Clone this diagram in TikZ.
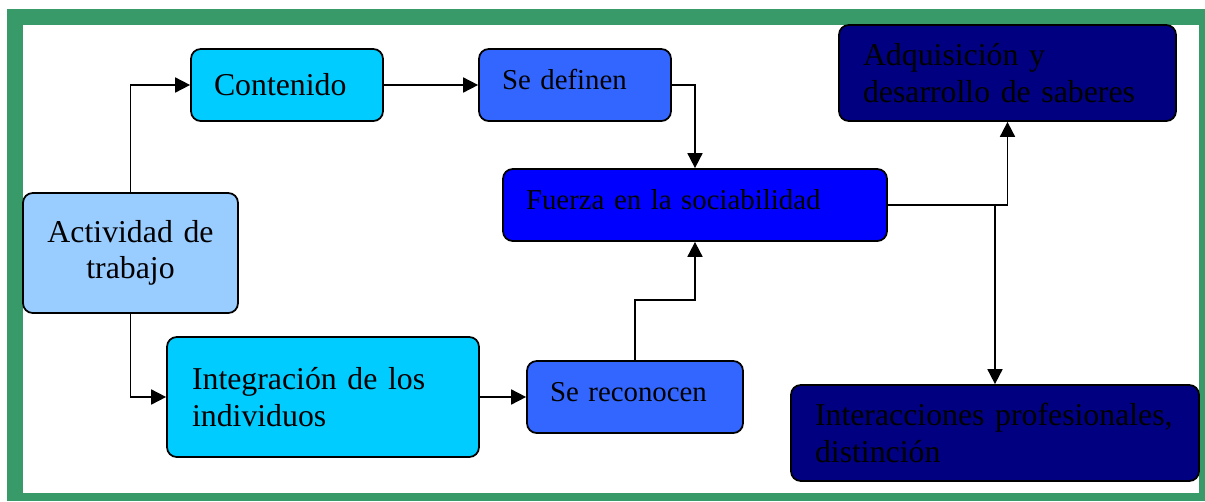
\documentclass[tikz,border=0pt]{standalone}
\usepackage{fontspec}
\setmainfont{Liberation Serif}
\usetikzlibrary{arrows.meta}
\usetikzlibrary{positioning}

\definecolor{frame-green}{HTML}{389A69}
\definecolor{pale-blue}{HTML}{99CCFF}
\definecolor{sky-blue}{HTML}{00CCFF}
\definecolor{mid-blue}{HTML}{3366FF}
\definecolor{pure-blue}{HTML}{0000FF}
\definecolor{navy-blue}{HTML}{000080}

\newcommand{\bigtext}{\fontsize{18.1}{20.6}\selectfont}
\newcommand{\smalltext}{\fontsize{16.4}{19}\selectfont}

\tikzset {
  flow path/.style = {
    draw = black,
    line width = 1pt
  },
  % path style with a filled triangle at its end
  arr/.style = {
    flow path,
    -{Triangle[length=8.5pt,width=8.5pt]}
  },
  % path style with no arrows
  narr/.style = {
    flow path
  }
}
\tikzset {
  flow node/.style = {
    draw = black,
    line width = 1pt,
    rounded corners = 5.5pt,
    rectangle,
    inner xsep = 0.46cm,
    inner ysep = 0pt,
    align = left
  },
  % large text box
  bigbox/.style = {
    flow node,
    font = \bigtext
  },
  % small text box, text sits a bit high
  smallbox/.style = {
    flow node,
    font = \smalltext,
    text height = 0.45cm,
    text depth = 0.29cm
  }
}

\begin{document}
\begin{tikzpicture}[x=0.02cm, y=-0.02cm]
    \useasboundingbox (0,0) rectangle (1205,501);
    \fill[frame-green] (7,9) rectangle (1205,501);
    \fill[white] (23,25) rectangle (1199,493);

    \node[bigbox, fill=pale-blue, align=center, text width=3.38cm,
      minimum width=4.3cm, minimum height=2.4cm] (actividad) at (130.5,253)
      {Actividad de\\trabajo};
    \node[bigbox, fill=sky-blue, text width=2.92cm,
      minimum width=3.84cm, minimum height=1.44cm] (contenido) at (287,85)
      {Contenido};
    \node[smallbox, fill=mid-blue, text width=2.92cm,
      minimum width=3.84cm, minimum height=1.44cm] (se-definen) at (575,85)
      {Se definen};
    \node[smallbox, fill=pure-blue, text width=6.76cm,
      minimum width=7.68cm, minimum height=1.44cm] (fuerza) at (695,205)
      {Fuerza en la sociabilidad};
    \node[bigbox, fill=sky-blue, text width=5.24cm,
      minimum width=6.24cm, minimum height=2.4cm] (integracion) at (323,397)
      {Integración de los\\individuos};
    \node[smallbox, fill=mid-blue, text width=3.4cm,
      minimum width=4.32cm, minimum height=1.44cm] (se-reconocen) at (635,397)
      {Se reconocen};
    \node[bigbox, fill=navy-blue, text width=5.78cm,
      minimum width=6.74cm, minimum height=1.92cm] (adquisicion) at (1007.5,73)
      {Adquisición y\\desarrollo de saberes};
    \node[bigbox, fill=navy-blue, text width=7.2cm,
      minimum width=8.16cm, minimum height=1.92cm] (interacciones) at (995,433)
      {Interacciones profesionales,\\distinción};

    \draw[arr] (actividad.north) |- (contenido.west);
    \draw[arr] (contenido.east) -- (se-definen.west);
    \draw[arr] (se-definen.east) -| (fuerza.north);
    \draw[arr] (actividad.south) |- (integracion.west);
    \draw[arr] (integracion.east) -- (se-reconocen.west);
    \draw[arr] (se-reconocen.north) -- ++(0,-60) -| (fuerza.south);
    \draw[arr] (fuerza.east) -| (adquisicion.south);
    \draw[arr] (interacciones.north |- fuerza.east) -- (interacciones.north);
  \end{tikzpicture}
\end{document}
